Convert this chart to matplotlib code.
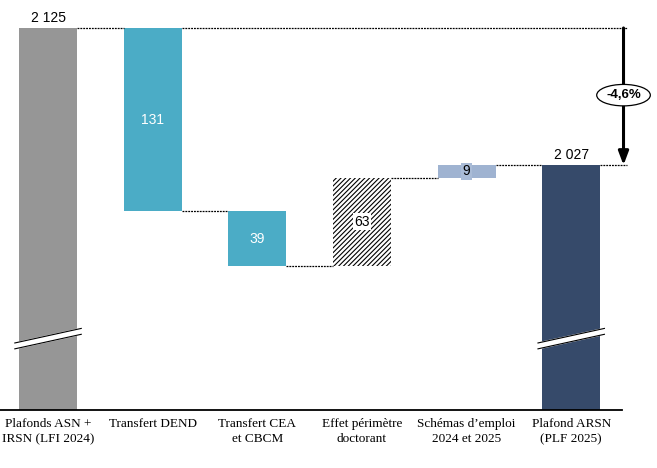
import numpy as np
import matplotlib.pyplot as plt

categories = ['Plafonds ASN +\nIRSN (LFI 2024)', 'Transfert DEND', 'Transfert CEA\net CBCM',
              'Effet périmètre\ndoctorant', 'Schémas d\u2019emploi\n2024 et 2025', 'Plafond ARSN\n(PLF 2025)']
start_total = 2125
deltas = [-131, -39, 63, 9]
end_total = 2027
change_label = '-4,6%'

y_min, y_max = 1852, 2145
bar_w = 0.555
colors = ['#969696', '#4BACC6', '#4BACC6', 'white', '#9FB3D1', '#364A6A']

plt.rcParams['font.family'] = ['Liberation Sans', 'DejaVu Sans']
fig = plt.figure(figsize=(6.57, 4.68), dpi=100)
ax = fig.add_axes([0, 1 - 410 / 468, 1, 410 / 468])
ax.set_xlim(-0.459, 5.82)
ax.set_ylim(y_min, y_max)
for s in ax.spines.values():
    s.set_visible(False)
ax.set_yticks([])

x = np.arange(len(categories))

# totals
ax.bar(x[0], start_total - y_min, bottom=y_min, width=bar_w, color=colors[0])
ax.bar(x[5], end_total - y_min, bottom=y_min, width=bar_w, color=colors[5])

# steps
level = start_total
levels = [start_total]
for i, d in enumerate(deltas):
    lo = min(level, level + d)
    xi = x[i + 1]
    if i == 2:
        plt.rcParams['hatch.linewidth'] = 0.8
        ax.bar(xi, abs(d), bottom=lo, width=bar_w, facecolor='white',
               edgecolor='black', hatch='///////', linewidth=0)
    else:
        ax.bar(xi, abs(d), bottom=lo, width=bar_w, color=colors[i + 1])
    level += d
    levels.append(level)

# connectors
dash = (0, (1.5, 0.8))
for i in range(len(levels) - 1):
    ax.plot([x[i] + bar_w / 2, x[i + 1] - bar_w / 2], [levels[i], levels[i]],
            ls=dash, color='black', lw=0.9)
ax.plot([x[4] + bar_w / 2, x[5] - bar_w / 2], [levels[-1], levels[-1]],
        ls=dash, color='black', lw=0.9)
arrow_x = 5.5
ax.plot([x[1] + bar_w / 2, arrow_x + 0.03], [start_total, start_total],
        ls=dash, color='black', lw=0.9)
ax.plot([x[5] + bar_w / 2, arrow_x + 0.03], [end_total, end_total],
        ls=dash, color='black', lw=0.9)

# arrow
ax.annotate('', xy=(arrow_x, end_total), xytext=(arrow_x, start_total),
            arrowprops=dict(arrowstyle='-|>,head_width=0.3,head_length=0.8',
                            color='black', lw=2.2, shrinkA=0, shrinkB=0))
ax.text(arrow_x, 2077, change_label, ha='center', va='center', fontsize=9.5,
        fontweight='bold',
        bbox=dict(boxstyle='ellipse,pad=0.12', fc='white', ec='black', lw=0.9))

# value labels
ax.annotate(f'{start_total:,}'.replace(',', ' '), (x[0], start_total),
            xytext=(0, 2.5), textcoords='offset points', ha='center', va='bottom', fontsize=10)
ax.annotate(f'{end_total:,}'.replace(',', ' '), (x[5], end_total),
            xytext=(0, 2.5), textcoords='offset points', ha='center', va='bottom', fontsize=10)
for i, d in enumerate(deltas):
    mid = (levels[i] + levels[i + 1]) / 2
    if i < 2:
        ax.text(x[i + 1], mid, str(abs(d)), ha='center', va='center', color='white', fontsize=10)
    elif i == 2:
        ax.text(x[i + 1], mid, str(abs(d)), ha='center', va='center', fontsize=10,
                bbox=dict(boxstyle='square,pad=0.1', fc='white', ec='none'))
    else:
        ax.text(x[i + 1], mid, str(abs(d)), ha='center', va='center', fontsize=10,
                bbox=dict(boxstyle='square,pad=0.1', fc='#A9BBD6', ec='none'))

# axis break marks
for xi in [x[0], x[5]]:
    x0, x1 = xi - bar_w / 2 - 0.04, xi + bar_w / 2 + 0.04
    yb = 1903
    sl = 5.2
    gap = 2.1
    ax.fill([x0, x1, x1, x0], [yb - sl + gap, yb + sl + gap, yb + sl - gap, yb - sl - gap],
            color='white', zorder=3)
    ax.plot([x0, x1], [yb - sl + gap, yb + sl + gap], color='black', lw=0.8, zorder=4)
    ax.plot([x0, x1], [yb - sl - gap, yb + sl - gap], color='black', lw=0.8, zorder=4)

# baseline
ax.plot([-0.459, 5.488], [y_min, y_min], color='black', lw=1.3, clip_on=False)

ax.set_xticks(x, categories, fontfamily='Liberation Serif', fontsize=9.5, linespacing=1.35)
ax.tick_params(axis='x', length=0, pad=6)

fig.savefig('out.png', dpi=100)
